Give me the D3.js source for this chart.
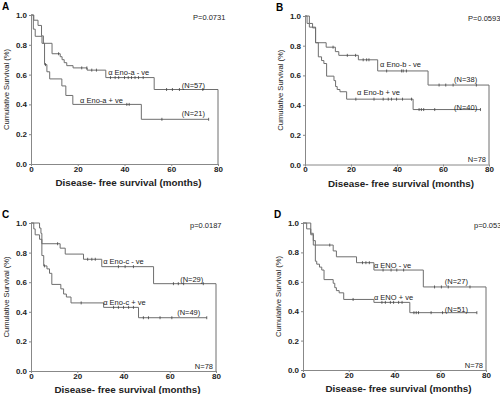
<!DOCTYPE html>
<html>
<head>
<meta charset="utf-8">
<script src="https://cdn.jsdelivr.net/npm/d3@7"></script>
<style>
  body { margin: 0; background: #fff; }
  svg { display: block; font-family: "Liberation Sans", Arial, sans-serif; }
</style>
</head>
<body>
<svg id="chart" width="500" height="394"></svg>
<script>
// ticks
var monthTicks = [0, 20, 40, 60, 80];
var survTicks = [0, 0.2, 0.4, 0.6, 0.8, 1.0];

// panel A - alpha Eno-a
var aNegT = [0, 1.2, 3.0, 4.5, 5.3, 9.0, 12.5, 13.3, 14.2, 15.3, 18.0, 24.0, 32.0, 52.7, 80];
var aNegS = [1, 0.965, 0.93, 0.86, 0.81, 0.74, 0.72, 0.70, 0.68, 0.66, 0.645, 0.63, 0.58, 0.50, 0];
var aNegCens = [11.8, 21.7, 23.9, 26, 28, 34, 36, 37.5, 40, 41.6, 43, 44.5, 46, 48, 58, 60.5, 63.5, 73.5];
var aPosT = [0, 1.0, 1.8, 4.7, 5.8, 6.8, 8.0, 13.2, 14.9, 17.9, 47.2, 76];
var aPosS = [1, 0.905, 0.857, 0.81, 0.667, 0.619, 0.571, 0.524, 0.46, 0.40, 0.30, 0.30];
var aPosCens = [6.2, 41, 42, 56, 76];

// panel B - alpha Eno-b
var bNegT = [0, 1.9, 3.3, 4.6, 9.2, 13.2, 14.7, 23.2, 31.6, 53.5, 80];
var bNegS = [1, 0.95, 0.92, 0.82, 0.79, 0.76, 0.735, 0.705, 0.63, 0.535, 0];
var bNegCens = [12.2, 18.4, 22, 25.3, 26.8, 27.8, 35.5, 42, 42.7, 44.1, 58.3, 61.2, 64.4, 74.5];
var bPosT = [0, 0.9, 1.9, 4.6, 5.8, 7.2, 8.2, 9.4, 12.6, 13.3, 14.0, 15.2, 18.1, 47.0, 76.3];
var bPosS = [1, 0.95, 0.925, 0.82, 0.725, 0.70, 0.68, 0.595, 0.565, 0.525, 0.505, 0.49, 0.44, 0.37, 0.37];
var bPosCens = [22.1, 30, 34, 36.2, 37.6, 39.8, 42.4, 46.3, 49.6, 50.6, 51.6, 56.4, 76.3];

// panel C - alpha Eno-c
var cNegT = [0, 3.7, 4.3, 4.7, 12.6, 14.8, 22.7, 30.6, 53, 80];
var cNegS = [1, 0.966, 0.93, 0.86, 0.83, 0.79, 0.755, 0.705, 0.59, 0];
var cNegCens = [11.5, 24.5, 26.3, 27.8, 37.8, 40.7, 44.3, 61.6, 63.7, 66, 74.5];
var cPosT = [0, 1.2, 1.8, 3.7, 4.7, 5.5, 6.9, 8.0, 9.0, 12.9, 14.1, 15.3, 17.3, 31.4, 46.5, 76];
var cPosS = [1, 0.96, 0.92, 0.89, 0.78, 0.71, 0.69, 0.66, 0.585, 0.555, 0.52, 0.50, 0.46, 0.43, 0.36, 0.36];
var cPosCens = [5.8, 21.7, 35.7, 37.8, 40, 42.2, 44.3, 48.6, 50.8, 55.8, 60.9, 76];

// panel D - alpha ENO
var dNegT = [0, 3.4, 4.5, 13.2, 14.6, 23.4, 31, 52.6, 80];
var dNegS = [1, 0.93, 0.85, 0.81, 0.77, 0.73, 0.68, 0.565, 0];
var dNegCens = [11.7, 26, 27.5, 29, 35, 38.5, 41, 44, 57.5, 60.5, 63.5, 73];
var dPosT = [0, 1.6, 3.4, 4.5, 5.4, 6.0, 7.2, 8.2, 9.2, 13.2, 13.9, 14.6, 15.8, 17.8, 31, 46.7, 76];
var dPosS = [1, 0.96, 0.92, 0.88, 0.74, 0.72, 0.70, 0.68, 0.615, 0.59, 0.56, 0.54, 0.525, 0.48, 0.46, 0.39, 0.39];
var dPosCens = [21.9, 34.5, 36, 38.2, 39.6, 41.8, 43.3, 48.5, 49.5, 50.5, 56, 61, 76];

var panels = [
  {letter: "A", box: [31, 218, 15, 164], p: "P=0.0731", pX: 193, n78: false,
   neg: [aNegT, aNegS, aNegCens], pos: [aPosT, aPosS, aPosCens],
   labels: [["\u03b1 Eno-a - ve", 33, 0.597], ["\u03b1 Eno-a + ve", 21, 0.41], ["(N=57)", 64.5, 0.51], ["(N=21)", 64.5, 0.322]]},
  {letter: "B", box: [305, 489, 16, 164.5], p: "P=0.0593", pX: 468, n78: true,
   neg: [bNegT, bNegS, bNegCens], pos: [bPosT, bPosS, bPosCens],
   labels: [["\u03b1 Eno-b - ve", 32.6, 0.657], ["\u03b1 Eno-b + ve", 22.6, 0.468], ["(N=38)", 64.8, 0.556], ["(N=40)", 64.8, 0.367]]},
  {letter: "C", box: [31, 216, 223, 371], p: "p=0.0187", pX: 190, n78: true,
   neg: [cNegT, cNegS, cNegCens], pos: [cPosT, cPosS, cPosCens],
   labels: [["\u03b1 Eno-c - ve", 31.2, 0.725], ["\u03b1 Eno-c + ve", 31.2, 0.446], ["(N=29)", 64.5, 0.60], ["(N=49)", 63.2, 0.378]]},
  {letter: "D", box: [303, 486, 223, 370], p: "p=0.053", pX: 474, n78: true,
   neg: [dNegT, dNegS, dNegCens], pos: [dPosT, dPosS, dPosCens],
   labels: [["\u03b1 ENO - ve", 31, 0.694], ["\u03b1 ENO + ve", 31, 0.476], ["(N=27)", 62, 0.585], ["(N=51)", 62, 0.395]]}
];

var svg = d3.select("#chart");
var lineCol = "#6e6e6e";

function stepAt(t, s, x) {
  var i = d3.bisectRight(t, x) - 1;
  return s[Math.max(0, i)];
}

panels.forEach(function(p) {
  var x = d3.scaleLinear().domain([0, 80]).range([p.box[0], p.box[1]]);
  var y = d3.scaleLinear().domain([0, 1]).range([p.box[3], p.box[2]]);
  var g = svg.append("g");

  // axes
  var xAxis = g.append("g")
    .attr("transform", "translate(0," + p.box[3] + ")")
    .call(d3.axisBottom(x).tickValues(monthTicks).tickSize(2).tickSizeOuter(0).tickFormat(d3.format("d")));
  var yAxis = g.append("g")
    .attr("transform", "translate(" + p.box[0] + ",0)")
    .call(d3.axisLeft(y).tickValues(survTicks).tickSize(2).tickSizeOuter(0).tickFormat(d3.format(".1f")));
  [xAxis, yAxis].forEach(function(a) {
    a.select(".domain").attr("stroke", "#888");
    a.selectAll(".tick line").attr("stroke", "#888");
    a.selectAll("text").attr("fill", "#222").style("font-size", "8px").style("font-weight", "bold");
  });
  xAxis.selectAll("text").attr("dy", "0.6em").attr("y", 3);
  yAxis.selectAll("text").attr("x", -4);

  // curves
  var line = d3.line()
    .x(function(d) { return x(d[0]); })
    .y(function(d) { return y(d[1]); })
    .curve(d3.curveStepAfter);

  [p.pos, p.neg].forEach(function(c) {
    var pts = c[0].map(function(t, i) { return [t, c[1][i]]; });
    g.append("path").datum(pts)
      .attr("d", line)
      .attr("fill", "none")
      .attr("stroke", lineCol)
      .attr("stroke-width", 1);
    g.selectAll(null).data(c[2]).enter().append("line")
      .attr("x1", function(d) { return x(d); })
      .attr("x2", function(d) { return x(d); })
      .attr("y1", function(d) { return y(stepAt(c[0], c[1], d)) - 1.5; })
      .attr("y2", function(d) { return y(stepAt(c[0], c[1], d)) + 1.5; })
      .attr("stroke", "#444")
      .attr("stroke-width", 0.8);
  });

  // curve labels
  g.selectAll(null).data(p.labels).enter().append("text")
    .attr("x", function(d) { return x(d[1]); })
    .attr("y", function(d) { return y(d[2]); })
    .style("font-size", "7.5px")
    .attr("fill", "#222")
    .text(function(d) { return d[0]; });

  if (p.n78) {
    g.append("text")
      .attr("x", x(80) - 3)
      .attr("y", p.box[3] - 2.5)
      .attr("text-anchor", "end")
      .style("font-size", "7.5px")
      .attr("fill", "#222")
      .text("N=78");
  }

  g.append("text")
    .attr("x", p.pX)
    .attr("y", p.box[2] + 4.5)
    .style("font-size", "7.5px")
    .attr("fill", "#222")
    .text(p.p);

  g.append("text")
    .attr("x", p.box[0] - 29)
    .attr("y", p.box[2] - 5)
    .style("font-size", "10px")
    .style("font-weight", "bold")
    .text(p.letter);

  // axis titles
  g.append("text")
    .attr("x", (p.box[0] + p.box[1]) / 2 + 4)
    .attr("y", p.box[3] + 22)
    .attr("text-anchor", "middle")
    .attr("textLength", 146)
    .attr("lengthAdjust", "spacingAndGlyphs")
    .style("font-size", "8.5px")
    .style("font-weight", "bold")
    .attr("fill", "#222")
    .text("Disease- free survival (months)");

  var cy = (p.box[2] + p.box[3]) / 2;
  g.append("text")
    .attr("transform", "translate(" + (p.box[0] - 22) + "," + cy + ") rotate(-90)")
    .attr("text-anchor", "middle")
    .attr("textLength", 81)
    .attr("lengthAdjust", "spacingAndGlyphs")
    .style("font-size", "8px")
    .attr("fill", "#222")
    .text("Cumulative Survival (%)");
});
</script>
</body>
</html>
